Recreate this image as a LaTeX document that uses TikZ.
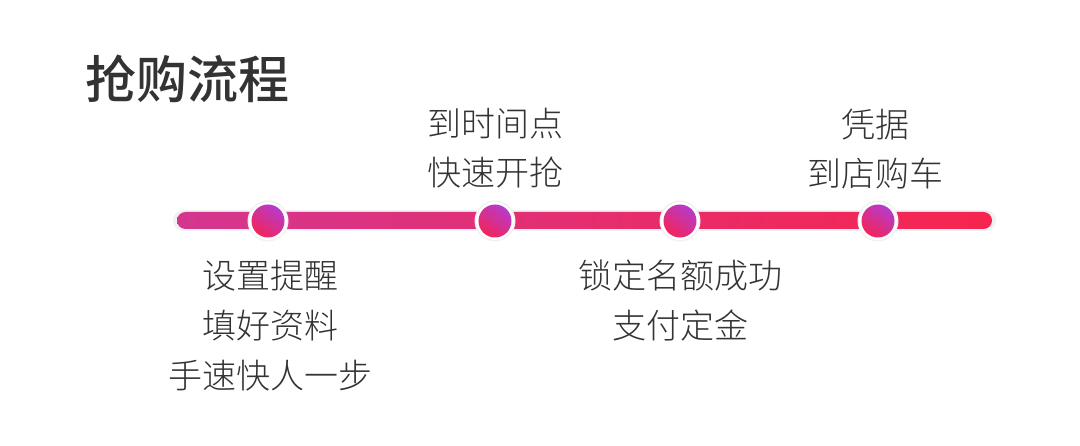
\documentclass[tikz,border=0pt]{standalone}
\usepackage{fontspec}
\newfontfamily\cjk{Noto Sans CJK SC Light}
\newfontfamily\cjkt{Noto Sans CJK SC Medium}
\usetikzlibrary{shadings}
\definecolor{txt}{HTML}{333333}
\definecolor{barL}{HTML}{D4368F}
\definecolor{barR}{HTML}{F6254F}
\definecolor{dotA}{HTML}{B63BCB}
\definecolor{dotB}{HTML}{F2245A}
\definecolor{halo}{HTML}{F1F1F3}
\tikzset{
  lbl/.style={font=\cjk\fontsize{34}{50}\selectfont, text=txt, align=center, inner sep=0pt},
  toplbl/.style={font=\cjk\fontsize{34}{49}\selectfont, text=txt, align=center, inner sep=0pt},
  ring/.style={circle, minimum size=41, inner sep=0pt, fill=halo},
  wring/.style={circle, minimum size=38, inner sep=0pt, fill=white},
  dotc/.style={circle, minimum size=33, inner sep=0pt, left color=dotA, right color=dotB, shading angle=-35}
}
\begin{document}
\begin{tikzpicture}[x=1pt,y=-1pt]
\useasboundingbox[fill=white] (0,0) rectangle (1080,446);
% title
\node[font=\cjkt\fontsize{51}{60}\selectfont, text=txt, inner sep=0pt] (title) at (187.5,79) {抢购流程};
% bar
\fill[halo, rounded corners=10.5] (173,210) rectangle (996,231);
\shade[left color=barL, right color=barR, rounded corners=8.5] (177,212) rectangle (992,229);
% dots
\foreach \n/\x in {d1/268, d2/495, d3/680, d4/878}{
  \node[ring] (\n h) at (\x,221) {};
  \node[wring] (\n w) at (\x,221) {};
  \node[dotc] (\n) at (\x,221) {};
}
% labels
\node[lbl] (l1) at (270,326) {设置提醒\\填好资料\\手速快人一步};
\node[toplbl] (l2) at (495,148) {到时间点\\快速开抢};
\node[lbl] (l3) at (680,301) {锁定名额成功\\支付定金};
\node[toplbl] (l4) at (875,149) {凭据\\到店购车};
\end{tikzpicture}
\end{document}
